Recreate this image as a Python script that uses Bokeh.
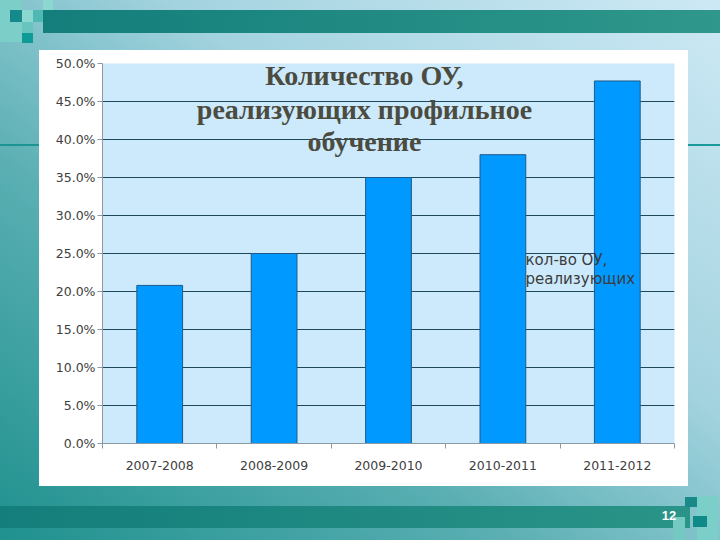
from bokeh.plotting import figure
from bokeh.models import FixedTicker, NumeralTickFormatter, LinearAxis, Range1d
from bokeh.core.properties import value
from bokeh.embed import file_html
from bokeh.resources import INLINE

# ---- data ----
categories = ["2007-2008", "2008-2009", "2009-2010", "2010-2011", "2011-2012"]
shares = [0.208, 0.250, 0.350, 0.380, 0.477]
y_ticks = [0.0, 0.05, 0.10, 0.15, 0.20, 0.25, 0.30, 0.35, 0.40, 0.45, 0.50]
title_lines = ["Количество ОУ,", "реализующих профильное", "обучение"]
legend_lines = ["кол-во ОУ,", "реализующих"]
page_number = "12"

W, H = 720, 540
n = len(categories)
centers = [i + 0.5 for i in range(n)]
bounds = [float(i) for i in range(n + 1)]

p = figure(width=W, height=H, output_backend="svg", toolbar_location=None,
           x_range=Range1d(0, n), y_range=Range1d(0, 0.5),
           min_border_left=102, min_border_right=46,
           min_border_top=63, min_border_bottom=97)

# slide background via CSS layers
def box(x, y, w, h, c):
    return f"linear-gradient({c},{c}) {x}px {y}px / {w}px {h}px no-repeat"

layers = [
    # top-left squares
    box(10, 10, 12, 12, "#16898a"),
    box(22, 10, 11, 12, "#8ad8d0"),
    box(33, 10, 10, 12, "#4fb8b2"),
    box(43, 0, 10, 10, "#8ad8d0"),
    box(22, 22, 11, 11, "#68c4be"),
    box(22, 32, 11, 11, "#0f9a98"),
    box(0, 0, 22, 42, "#7ccfc8"),
    # bottom-right squares
    box(685, 497, 12, 10, "#1a8a88"),
    box(693, 516, 14, 11, "#0f8a88"),
    box(673, 517, 12, 23, "#74cac2"),
    box(697, 496, 21, 44, "#7ccfc8"),
    # bands
    "linear-gradient(to right, #137e7b, #2f978b) 43px 10px / 677px 23px no-repeat",
    "linear-gradient(to right, #137e7b, #2a9488) 0px 506px / 690px 22px no-repeat",
    # thin lines
    box(0, 144, 39, 2, "#1b9494"),
    box(688, 144, 32, 2, "#1b9a9a"),
    # white chart box
    box(39, 50, 649, 436, "#ffffff"),
    # base gradient
    "linear-gradient(to top right, #1f918e 0%, #5aafb3 35%, #a3d3df 62%, #cde9f5 100%)",
]
p.styles = {"background": ", ".join(layers)}

p.border_fill_color = None
p.background_fill_color = "#cceafc"
p.outline_line_color = None

# grid
p.ygrid.ticker = FixedTicker(ticks=y_ticks)
p.ygrid.grid_line_color = "#1f4a5c"
p.ygrid.grid_line_width = 1
p.xgrid.ticker = FixedTicker(ticks=[float(n)])
p.xgrid.grid_line_color = "#1f4a5c"

# bars
p.vbar(x=centers, top=shares, bottom=0, width=0.4,
       fill_color="#0099ff", line_color="#1d5a8a", line_width=1)

# y axis
p.yaxis.ticker = FixedTicker(ticks=y_ticks)
p.yaxis.formatter = NumeralTickFormatter(format="0.0%")
p.yaxis.minor_tick_line_color = None
p.yaxis.major_tick_out = 5
p.yaxis.major_tick_in = 0
p.yaxis.axis_line_color = "#8c99a3"
p.yaxis.major_tick_line_color = "#8c99a3"
p.yaxis.major_label_text_font = "DejaVu Sans"
p.yaxis.major_label_text_font_size = "12.5px"
p.yaxis.major_label_text_color = "#404040"
p.yaxis.major_label_standoff = 2

# x axis
xax = p.xaxis[0]
xax.ticker = FixedTicker(ticks=centers, minor_ticks=bounds)
xax.major_label_overrides = {c: lab for c, lab in zip(centers, categories)}
xax.major_tick_line_color = None
xax.major_tick_out = 0
xax.major_tick_in = 0
xax.minor_tick_out = 5
xax.minor_tick_in = 0
xax.minor_tick_line_color = "#8c99a3"
xax.axis_line_color = "#8c99a3"
xax.major_label_text_font = "DejaVu Sans"
xax.major_label_text_font_size = "12.5px"
xax.major_label_text_color = "#404040"
xax.major_label_standoff = 12

# title inside plot
p.text(x=[2.29] * 3, y=[0.4842, 0.4394, 0.3973], text=title_lines,
       text_font=value("Liberation Serif"), text_font_style="bold",
       text_font_size="28px", text_color="#4b4b3f",
       text_align="center", text_baseline="alphabetic")

# clipped legend text
p.text(x=[3.698] * 2, y=[0.2421, 0.2158], text=legend_lines,
       text_font=value("DejaVu Sans"), text_font_size="15px",
       text_color="#3c3c3c", text_align="left", text_baseline="alphabetic")

# page number, as a second label-only axis below the category axis
pn_x = 4.952
num_axis = LinearAxis(ticker=FixedTicker(ticks=[pn_x], minor_ticks=[]),
                      major_label_overrides={pn_x: page_number},
                      axis_line_color=None, major_tick_line_color=None,
                      minor_tick_line_color=None,
                      major_tick_out=0, major_tick_in=0,
                      major_label_standoff=38,
                      major_label_text_font="Liberation Sans",
                      major_label_text_font_style="bold",
                      major_label_text_font_size="13px",
                      major_label_text_color="#ffffff")
p.add_layout(num_axis, "below")

open("out.html", "w").write(file_html(p, INLINE))
